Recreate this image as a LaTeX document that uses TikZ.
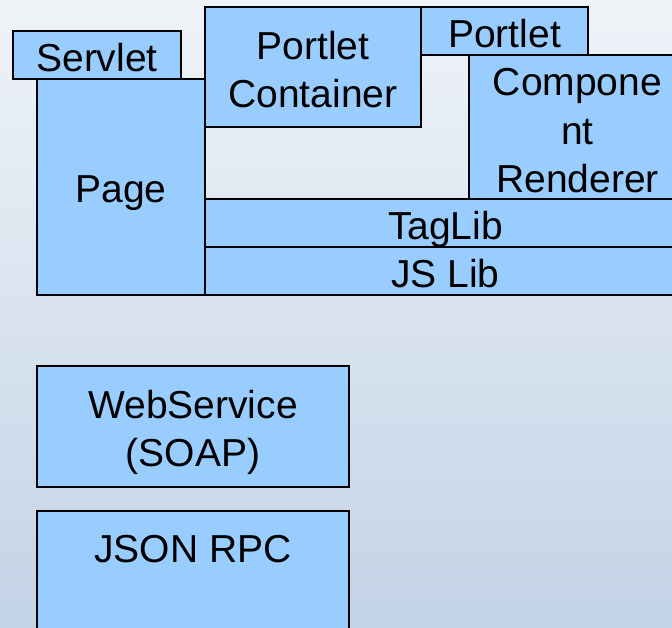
\documentclass[tikz,border=0pt]{standalone}
\usepackage{fontspec}
\setmainfont{Liberation Sans}
\usepackage{xcolor}
\usetikzlibrary{positioning}

\definecolor{boxblue}{HTML}{99CCFF}
\definecolor{bgtop}{HTML}{EFF3F8}
\definecolor{bgbottom}{HTML}{C3D3E6}

% strut that puts the baseline 16pt below the middle of a line
\newcommand{\bxstrut}{\rule[-8pt]{0pt}{48pt}}

\tikzset{
  boxfont/.style={font=\fontsize{39}{48}\selectfont},
  blk/.style={draw=black, fill=boxblue, line width=1.5pt, inner sep=0pt,
    outer sep=0pt, anchor=north west, align=center, boxfont,
    execute at begin node=\bxstrut}
}

\begin{document}
\begin{tikzpicture}[x=1pt, y=-1pt]
% page and background
\useasboundingbox (0,0) rectangle (672,627);
\clip (0,0) rectangle (672,627);
\shade[top color=bgtop, bottom color=bgbottom] (0,0) rectangle (672,627);

% draw the upper stack
\node[blk, minimum width=168pt, minimum height=216pt] (page) at (37,79) {Page};
\node[blk, minimum width=168pt, minimum height=48pt] (servlet) at (13,31) {Servlet};
\node[blk, minimum width=216pt, minimum height=120pt] (container) at (205,7) {Portlet\bxstrut\\Container\bxstrut};
\node[blk, minimum width=167pt, minimum height=48pt] (portlet) at (421,7) {Portlet};
\node[blk, minimum width=217pt, minimum height=144pt] (renderer) at (469,55) {Compone\bxstrut\\nt\bxstrut\\Renderer\bxstrut};
\node[blk, minimum width=481pt, minimum height=48pt] (taglib) at (205,199) {TagLib};
\node[blk, minimum width=481pt, minimum height=48pt] (jslib) at (205,247) {JS Lib};

% draw the services
\node[blk, minimum width=312pt, minimum height=121pt] (webservice) at (37,366) {WebService\bxstrut\\(SOAP)\bxstrut};
\node[blk, minimum width=312pt, minimum height=121pt] (jsonrpc) at (37,511) {};
\node[inner sep=0pt, boxfont, below=24pt of jsonrpc.north] (jsonrpctext) {JSON RPC};

\end{tikzpicture}
\end{document}
